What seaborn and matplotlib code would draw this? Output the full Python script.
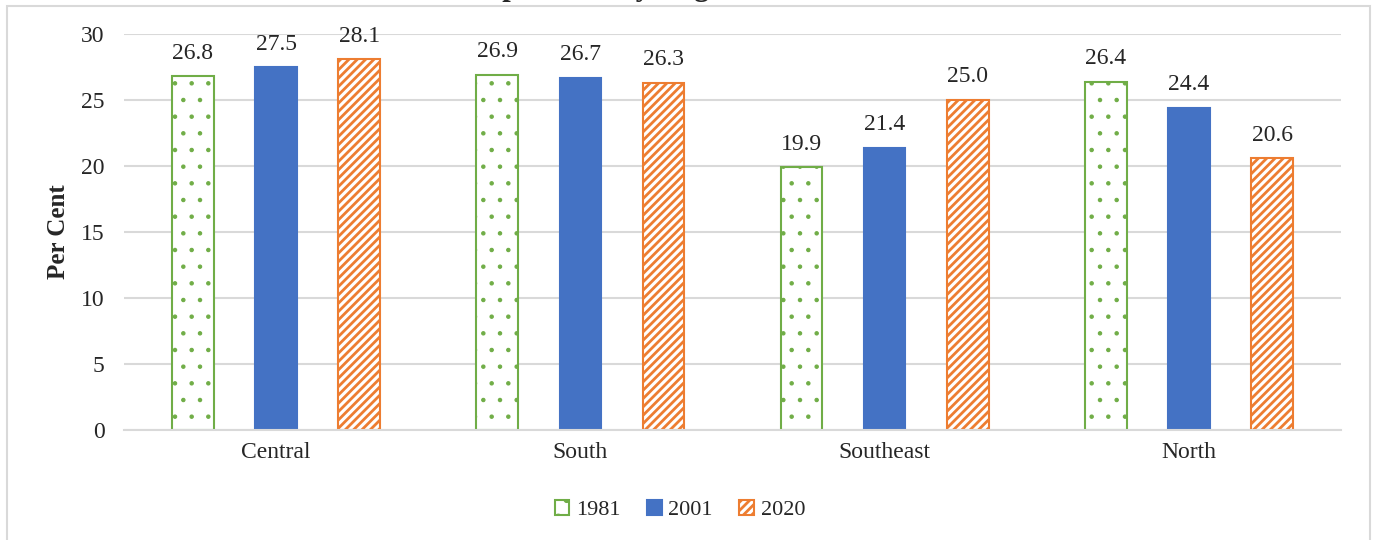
import matplotlib
matplotlib.use("Agg")
import matplotlib.pyplot as plt
import matplotlib.patches as mpatches
import pandas as pd
import seaborn as sns

# values
regions = ["Central", "South", "Southeast", "North"]
years = ["1981", "2001", "2020"]
share_1981 = [26.8, 26.9, 19.9, 26.4]
share_2001 = [27.5, 26.7, 21.4, 24.4]
share_2020 = [28.1, 26.3, 25.0, 20.6]
title = "Distribution of Population by Region"

green, blue, orange = "#70ad47", "#4472c4", "#ed7d31"

df = pd.DataFrame({
    "region": regions * 3,
    "year": [y for y in years for _ in regions],
    "share": share_1981 + share_2001 + share_2020,
})

sns.set_theme(style="white")
plt.rcParams["font.family"] = ["Liberation Serif", "DejaVu Serif"]
plt.rcParams["hatch.linewidth"] = 2.0

fig = plt.figure(figsize=(13.77, 5.4), dpi=100)
ax = fig.add_axes([124 / 1377, 1 - 430 / 540, (1341 - 124) / 1377, (430 - 34) / 540])

sns.barplot(data=df, x="region", y="share", hue="year", order=regions, hue_order=years,
            palette=[green, blue, orange], width=0.82, gap=0.5, legend=False, ax=ax)

styles = [("white", green, ".", 0.8), (blue, blue, None, 2.0), ("white", orange, "////", 2.0)]
for cont, (fc, ec, hatch, hlw) in zip(ax.containers, styles):
    for bar in cont:
        bar.set_facecolor(fc)
        bar.set_edgecolor(ec)
        bar.set_linewidth(1.5)
        if hatch:
            bar.set_hatch(hatch)
            if hasattr(bar, "set_hatch_linewidth"):
                bar.set_hatch_linewidth(hlw)
    ax.bar_label(cont, fmt="%.1f", padding=9, fontsize=17)

ax.set_ylim(0, 30)
ax.set_xlim(-0.5, 3.5)
ax.set_yticks(range(0, 31, 5))
ax.yaxis.grid(True, color="#d9d9d9", linewidth=1.5)
ax.set_axisbelow(True)
for s in ["top", "right", "left"]:
    ax.spines[s].set_visible(False)
ax.spines["bottom"].set_color("#d9d9d9")
ax.spines["bottom"].set_linewidth(1.5)
ax.tick_params(axis="both", length=0, labelsize=17)
ax.tick_params(axis="y", pad=14)
ax.tick_params(axis="x", pad=9)
ax.set_xlabel("")
ax.set_ylabel("Per Cent", fontsize=18, fontweight="bold", labelpad=8)

handles = [cont[0] for cont in ax.containers]
fig.legend(handles, years, loc="center", bbox_to_anchor=(680 / 1377, 1 - 510 / 540),
           ncol=3, frameon=False, fontsize=16, handlelength=0.65, handleheight=0.65,
           handletextpad=0.3, columnspacing=1.2)

# outer chart frame and clipped title
fig.patches.append(mpatches.Rectangle((7 / 1377, -0.01), (1370 - 7) / 1377, 1 - 6 / 540 + 0.01,
                                      transform=fig.transFigure, fill=False,
                                      edgecolor="#d9d9d9", linewidth=1.5))
fig.text(0.37, 1.009, title, ha="center", va="baseline", fontsize=22, fontweight="bold")

fig.savefig("out.png", dpi=100)
